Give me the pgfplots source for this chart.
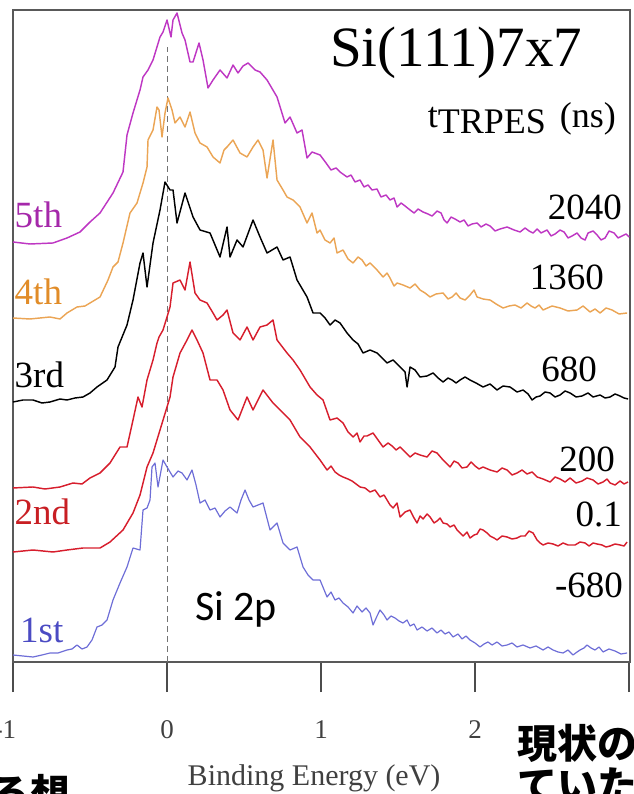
\documentclass[border=0pt]{standalone}
\usepackage{fontspec}
\setmainfont{Liberation Serif}
\newfontfamily\carlito{Carlito}
\newfontfamily\jp{Noto Sans CJK JP}
\usepackage{pgfplots}
\usepackage{pgfplotstable}
\pgfplotsset{compat=1.18}
\definecolor{cmag}{RGB}{190,55,195}
\definecolor{corg}{RGB}{235,165,85}
\definecolor{cred}{RGB}{215,30,45}
\definecolor{cblu}{RGB}{110,110,215}
\definecolor{lmag}{RGB}{165,40,170}
\definecolor{lorg}{RGB}{225,140,40}
\definecolor{lred}{RGB}{200,30,35}
\definecolor{lblu}{RGB}{75,75,195}

% columns: horizontal position (px), vertical position (px, from the top)
\pgfplotstableread{
13 242
30 244
53 243
67 238
80 232
90 222
100 213
113 193
123 172
127 135
133 113
140 90
143 77
148 70
153 60
160 37
163 32
167 20
171 37
173 20
177 13
182 33
185 40
190 62
193 62
199 43
203 60
208 88
213 80
220 70
227 78
233 65
238 73
243 66
248 63
255 70
260 72
267 80
277 97
285 123
290 117
297 133
302 130
307 158
312 152
320 155
326 163
331 170
336 168
340 172
347 177
351 175
355 182
360 180
364 187
368 185
372 190
377 189
381 197
386 195
390 200
394 198
397 207
401 203
405 206
410 210
414 213
418 209
423 212
428 214
432 216
437 211
441 213
444 220
447 223
451 217
455 219
460 222
464 220
468 226
472 224
477 223
481 227
486 224
490 226
495 231
500 229
507 227
514 230
520 232
525 228
529 231
533 233
537 229
541 233
547 230
551 236
555 234
560 230
564 232
568 238
572 236
577 233
581 238
585 240
588 233
593 231
597 235
601 240
605 238
609 231
614 233
618 238
622 236
626 234
629 237
}\fifth
\pgfplotstableread{
13 318
30 319
50 317
60 319
67 313
77 307
85 306
90 303
100 297
108 280
113 267
118 262
123 243
130 213
137 203
143 183
147 167
148 140
153 130
157 107
159 110
162 137
165 113
168 98
172 110
175 123
180 117
185 127
190 112
195 133
200 143
207 147
213 157
220 163
224 150
227 147
233 140
240 153
247 157
253 147
258 140
263 150
267 178
273 140
277 180
283 190
287 197
293 200
300 207
307 223
312 213
317 233
320 230
325 240
330 243
334 238
337 253
343 250
348 259
353 263
358 257
362 260
366 266
370 263
377 270
383 277
387 273
390 278
394 286
397 283
403 285
410 288
415 284
420 290
425 293
430 297
436 294
443 293
448 299
452 297
456 293
460 298
465 300
470 295
474 290
477 297
483 299
490 300
496 304
503 308
509 306
515 305
521 308
527 303
531 306
535 308
539 305
543 310
552 306
560 308
568 311
577 310
583 306
590 312
595 309
600 313
606 308
612 310
619 314
627 313
}\fourth
\pgfplotstableread{
13 402
23 400
33 400
42 403
50 402
60 399
67 400
75 398
83 397
90 393
97 387
107 380
115 367
118 347
127 325
133 300
140 263
143 253
147 287
153 243
160 210
165 182
170 190
173 190
177 223
185 193
193 217
200 230
210 233
220 257
227 227
230 257
237 240
243 247
253 220
260 237
267 253
277 247
283 260
290 257
297 280
307 297
313 313
320 313
325 318
330 325
335 320
340 323
347 333
353 340
358 344
363 353
370 350
377 353
382 358
387 363
393 360
400 367
405 372
407 387
410 367
415 370
420 377
427 376
433 373
438 378
443 382
448 378
452 380
456 383
460 380
465 377
470 380
476 383
483 387
490 384
497 390
503 386
510 387
517 392
523 390
528 394
532 400
536 397
540 396
545 392
550 393
555 397
560 395
565 391
570 393
576 397
582 396
588 393
593 397
600 395
605 398
610 397
615 394
620 396
624 398
628 399
}\third
\pgfplotstableread{
13 488
33 487
45 489
60 487
73 483
82 484
90 478
100 473
110 463
120 447
127 447
133 420
138 397
142 407
147 380
153 360
157 343
159 337
163 330
167 317
170 307
173 283
180 280
185 290
190 262
195 293
200 300
207 303
213 313
217 320
223 315
227 310
233 333
240 340
247 327
253 340
260 327
267 325
273 320
277 340
287 353
293 360
300 370
310 387
317 395
323 400
330 420
337 418
343 423
348 432
353 437
357 433
360 442
364 436
367 436
373 433
378 440
383 447
388 443
392 446
396 450
400 447
405 452
410 457
415 453
420 455
427 457
432 451
437 453
443 460
450 467
454 461
458 463
462 468
467 467
471 462
475 466
479 469
483 467
490 470
497 472
502 468
507 470
512 475
517 473
522 470
527 474
532 472
537 477
543 479
550 482
555 477
560 479
565 482
570 478
576 483
582 481
587 478
593 480
598 484
603 482
607 479
610 483
615 485
620 481
624 484
628 482
}\secondA
\pgfplotstableread{
13 552
33 550
53 552
67 550
83 548
100 548
110 542
123 530
133 513
140 495
147 467
153 453
160 430
167 407
170 397
173 377
180 353
187 340
192 330
197 340
203 353
210 380
217 380
223 390
230 410
238 420
247 397
253 410
263 390
273 403
283 413
290 420
300 437
310 447
320 460
327 470
331 466
335 472
339 475
343 477
348 479
352 481
356 484
360 487
365 488
370 492
375 490
380 497
384 495
387 500
390 505
393 508
397 503
400 517
405 512
410 510
414 518
417 523
420 516
423 519
427 514
430 517
434 523
437 521
440 518
443 523
447 524
450 527
454 525
457 530
460 533
463 536
467 532
470 538
474 535
477 534
480 529
483 530
487 533
490 536
494 538
497 540
502 536
507 537
512 539
517 538
521 536
525 536
529 531
533 533
537 540
540 543
543 545
548 543
553 544
558 546
563 543
568 545
575 545
580 542
585 543
589 546
593 543
597 544
602 545
606 547
610 546
615 544
620 545
624 546
627 542
}\secondB
\pgfplotstableread{
13 655
23 656
33 657
42 655
50 653
58 653
67 650
72 649
77 645
82 649
87 647
92 640
97 627
102 625
107 620
113 600
120 583
127 567
133 548
140 550
143 510
147 508
150 500
152 467
155 463
158 487
163 460
167 467
173 477
178 471
182 473
187 480
192 470
196 485
200 503
205 500
210 510
215 508
220 517
225 511
230 507
237 513
241 500
245 490
249 500
253 507
258 505
263 503
270 530
277 523
283 543
290 550
297 547
303 567
308 575
313 580
320 580
327 597
331 592
335 600
339 598
343 603
348 607
353 613
357 606
362 612
366 608
370 613
373 625
377 616
380 610
384 615
387 620
391 616
395 618
399 621
403 623
407 620
410 626
414 624
417 630
422 627
427 631
432 628
437 633
441 630
445 634
449 632
453 637
458 634
462 639
466 636
470 640
475 643
480 647
484 644
488 642
492 645
497 642
502 646
507 645
512 643
517 647
523 645
530 648
536 646
543 650
548 647
553 650
558 652
563 653
568 650
573 655
577 652
580 650
584 648
587 645
591 648
595 650
599 647
603 652
609 649
615 651
621 654
627 653
}\first

\begin{document}
\begin{tikzpicture}
\begin{axis}[
  at={(0,0)}, anchor=south west,
  scale only axis, width=617bp, height=652bp,
  xmin=-1, xmax=3.006, ymin=0, ymax=652,
  ytick=\empty,
  xtick={-1,0,1,2,3}, xticklabels={{\hspace*{-16bp}-1},0,1,2,{}},
  xtick pos=bottom, tick align=outside, major tick length=30bp,
  every tick/.style={draw=black!70, line width=1.8bp},
  axis line style={draw=black!65, line width=1.3bp},
  xticklabel style={font=\fontsize{27bp}{27bp}\selectfont, anchor=base, inner sep=0pt, yshift=-46bp, text=black!75},
  clip=false,
  every axis plot/.append style={line width=1.45bp, line join=round},
]
\draw[black!55, dashed, line width=0.9bp, dash pattern=on 6bp off 4bp] (axis cs:0,0) -- (axis cs:0,615);
\addplot[cmag] table[x expr={(\thisrowno{0}-167)/154}, y expr={662-\thisrowno{1}}] {\fifth};
\addplot[corg] table[x expr={(\thisrowno{0}-167)/154}, y expr={662-\thisrowno{1}}] {\fourth};
\addplot[black] table[x expr={(\thisrowno{0}-167)/154}, y expr={662-\thisrowno{1}}] {\third};
\addplot[cred] table[x expr={(\thisrowno{0}-167)/154}, y expr={662-\thisrowno{1}}] {\secondA};
\addplot[cred] table[x expr={(\thisrowno{0}-167)/154}, y expr={662-\thisrowno{1}}] {\secondB};
\addplot[cblu, line width=1.2bp] table[x expr={(\thisrowno{0}-167)/154}, y expr={662-\thisrowno{1}}] {\first};

\begin{scope}[every node/.style={inner sep=0pt, font=\fontsize{37bp}{37bp}\selectfont}]
\node[anchor=base west, text=lmag] at (axis cs:-0.99,434) {5th};
\node[anchor=base west, text=lorg] at (axis cs:-0.99,357) {4th};
\node[anchor=base west, text=black] at (axis cs:-0.99,274) {3rd};
\node[anchor=base west, text=lred] at (axis cs:-0.99,137) {2nd};
\node[anchor=base west, text=lblu] at (axis cs:-0.955,20) {1st};
\node[anchor=base east] at (axis cs:2.955,442) {2040};
\node[anchor=base east] at (axis cs:2.838,372) {1360};
\node[anchor=base east] at (axis cs:2.792,280) {680};
\node[anchor=base east] at (axis cs:2.909,190) {200};
\node[anchor=base east] at (axis cs:2.955,135) {0.1};
\node[anchor=base east] at (axis cs:2.961,65) {-680};
\node[anchor=base east, font=\fontsize{36bp}{36bp}\selectfont] at (axis cs:2.916,534) {t\raisebox{-6bp}{TRPES}\hspace{14bp}(ns)};
\end{scope}
\node[anchor=base west, inner sep=0pt, font=\fontsize{57bp}{57bp}\selectfont] at (axis cs:1.058,595) {Si(111)7x7};
\node[anchor=base west, inner sep=0pt, font=\carlito\fontsize{42bp}{42bp}\selectfont] at (axis cs:0.182,42) {Si 2p};
\node[anchor=base, inner sep=0pt, text=black!75, font=\fontsize{30bp}{30bp}\selectfont] at (axis cs:0.955,-123) {Binding Energy (eV)};
\node[anchor=base west, inner sep=0pt, font=\jp\bfseries\fontsize{40bp}{40bp}\selectfont] at (axis cs:2.273,-96) {現状の};
\node[anchor=base west, inner sep=0pt, font=\jp\bfseries\fontsize{40bp}{40bp}\selectfont] at (axis cs:2.273,-138) {ていた};
\node[anchor=base west, inner sep=0pt, font=\jp\bfseries\fontsize{40bp}{40bp}\selectfont] at (axis cs:-1.15,-146) {る想};
\end{axis}
\pgfresetboundingbox
\useasboundingbox (-13bp,-132bp) rectangle (621bp,662bp);
\end{tikzpicture}
\end{document}
